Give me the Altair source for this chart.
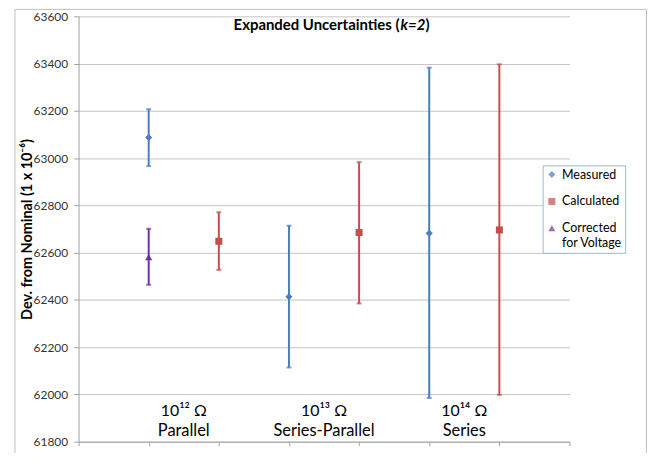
import altair as alt
import pandas as pd

# ---------------- data ----------------
series_names = ["Measured", "Calculated", "Corrected for Voltage"]
series_colors = ["#4A7EBB", "#C0504D", "#7030A0"]
series_shapes = ["diamond", "square", "triangle-up"]

pt_x = [1, 2, 1, 3, 4, 5, 6]
pt_series = ["Measured", "Calculated", "Corrected for Voltage",
             "Measured", "Calculated", "Measured", "Calculated"]
pt_value = [63087, 62648, 62581, 62413, 62685, 62682, 62696]
pt_low = [62966, 62527, 62464, 62114, 62385, 61985, 61998]
pt_high = [63207, 62771, 62701, 62714, 62983, 63383, 63397]

y_ticks = list(range(61800, 63601, 200))
x_ticks = list(range(0, 8))

group_x = [1.5, 3.5, 5.5]
group_top = ["10¹² Ω", "10¹³ Ω", "10¹⁴ Ω"]
group_bottom = ["Parallel", "Series-Parallel", "Series"]

color_of = dict(zip(series_names, series_colors))
df = pd.DataFrame({"x": pt_x, "series": pt_series, "value": pt_value,
                   "low": pt_low, "high": pt_high})
df["col"] = df["series"].map(color_of)
gdf = pd.DataFrame({"gx": group_x, "top": group_top, "bottom": group_bottom})
one = alt.Data(values=[{"a": 1}])

FONT = "Lato"
GRID = "#c4c4c4"
AXC = "#a0a0a0"

xscale = alt.Scale(domain=[0, 7], nice=False, zero=False)
yscale = alt.Scale(domain=[61800, 63600], nice=False, zero=False)
cscale = alt.Scale(domain=series_names, range=series_colors)
sscale = alt.Scale(domain=series_names, range=series_shapes)

xaxis = alt.Axis(values=x_ticks, labels=False, grid=False, ticks=True, tickSize=4,
                 tickColor=AXC, domainColor=AXC, title=None)
yaxis = alt.Axis(values=y_ticks, format="d", grid=True, gridColor=GRID, domainColor=AXC,
                 tickColor=AXC, tickSize=5, labelFont=FONT, labelFontSize=12,
                 labelColor="#333333", labelPadding=6,
                 title="Dev. from Nominal (1 x 10⁻⁶)", titleFont=FONT,
                 titleFontSize=14.5, titleFontWeight="bold", titleColor="#000000",
                 titleAngle=270, titleX=-51, titleY=214, titleAlign="center",
                 titleBaseline="middle")

legend = alt.Legend(orient="none", legendX=467, legendY=150, title=None,
                    strokeColor="#9fb6d3", fillColor="white", padding=3,
                    labelFont=FONT, labelFontSize=12.5, labelColor="#000000",
                    symbolSize=50, rowPadding=14, symbolStrokeWidth=0,
                    symbolOpacity=1,
                    labelExpr="datum.label == 'Corrected for Voltage' ? ['Corrected', 'for Voltage'] : datum.label")

X = lambda f: alt.X(f, scale=xscale, axis=xaxis)
Y = lambda f: alt.Y(f, scale=yscale, axis=yaxis)

frame = alt.Chart(one).mark_rect(fillOpacity=0, stroke="#bfbfbf", strokeWidth=1).encode(
    x=alt.value(-64), x2=alt.value(571.5), y=alt.value(-7), y2=alt.value(480))

base = alt.Chart(df)
rules = base.mark_rule(strokeWidth=2).encode(
    x=X("x:Q"), y=Y("low:Q"), y2="high:Q",
    color=alt.Color("col:N", scale=None))
cap_lo = base.mark_tick(orient="horizontal", size=5, thickness=2).encode(
    x=X("x:Q"), y=Y("low:Q"), color=alt.Color("col:N", scale=None))
cap_hi = base.mark_tick(orient="horizontal", size=5, thickness=2).encode(
    x=X("x:Q"), y=Y("high:Q"), color=alt.Color("col:N", scale=None))
points = base.mark_point(filled=True, opacity=1, size=50).encode(
    x=X("x:Q"), y=Y("value:Q"),
    color=alt.Color("series:N", scale=cscale, legend=legend),
    shape=alt.Shape("series:N", scale=sscale, legend=legend))

gtop = alt.Chart(gdf).mark_text(font=FONT, fontSize=16, baseline="middle", color="#000000").encode(
    x=X("gx:Q"), y=alt.value(397), text="top:N")
gbot = alt.Chart(gdf).mark_text(font=FONT, fontSize=16.5, baseline="middle", color="#000000").encode(
    x=X("gx:Q"), y=alt.value(417), text="bottom:N")

t1 = alt.Chart(one).mark_text(text="Expanded Uncertainties (", font=FONT, fontSize=15,
                              fontWeight="bold", align="right", baseline="middle",
                              color="#000000").encode(x=alt.value(323), y=alt.value(9))
t2 = alt.Chart(one).mark_text(text="k=2", font=FONT, fontSize=15, fontWeight="bold",
                              fontStyle="italic", align="left", baseline="middle",
                              color="#000000").encode(x=alt.value(324), y=alt.value(9))
t3 = alt.Chart(one).mark_text(text=")", font=FONT, fontSize=15, fontWeight="bold",
                              align="left", baseline="middle",
                              color="#000000").encode(x=alt.value(349), y=alt.value(9))

chart = alt.layer(frame, rules, cap_lo, cap_hi, points, gtop, gbot, t1, t2, t3).properties(
    width=494, height=428,
    padding={"left": 71, "top": 7, "right": 79, "bottom": 10},
    autosize=alt.AutoSizeParams(type="none"),
    background="white",
).configure_view(strokeWidth=0)

chart.save("out.html", embed_options={"renderer": "svg", "actions": False})
